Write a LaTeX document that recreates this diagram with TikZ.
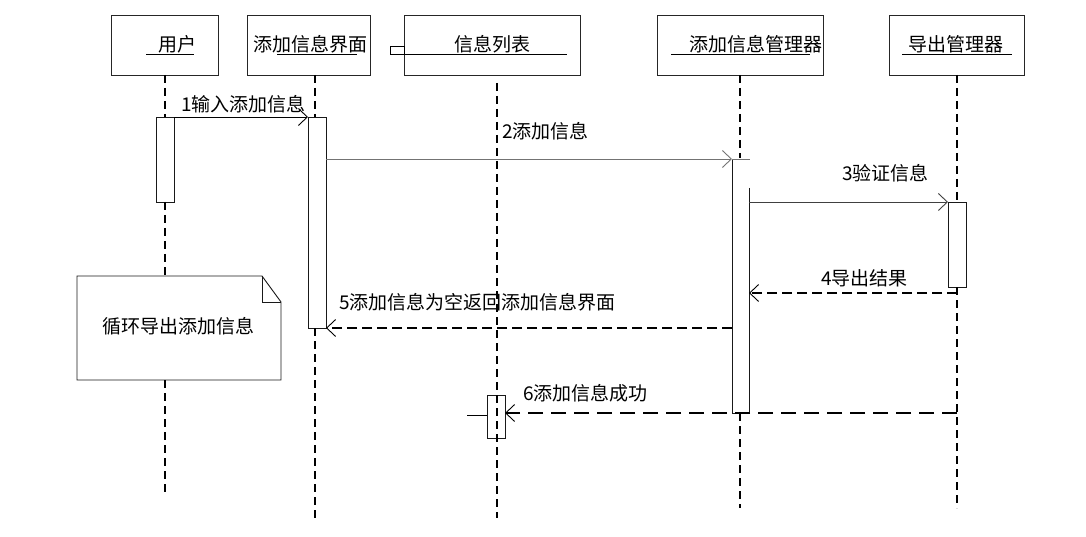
\documentclass[tikz,border=0pt]{standalone}
\usepackage{fontspec}
\setmainfont{Noto Sans CJK SC}
\usetikzlibrary{arrows.meta}
\begin{document}
\begin{tikzpicture}[x=1pt,y=-1pt,
  objbox/.style={draw=black!85, line width=0.9pt, inner sep=0pt},
  lbl/.style={inner sep=0pt, font=\fontsize{19}{19}\selectfont},
  lifeline/.style={line width=1.8pt, dash pattern=on 8pt off 5pt},
  actbox/.style={draw=black!90, line width=0.9pt},
  msg/.style={line width=0.9pt, -{Straight Barb[length=9pt,width=17pt,line width=0.9pt]}},
  retmsg/.style={line width=1.8pt, dash pattern=on 10pt off 5pt, -{Straight Barb[length=9pt,width=17pt,line width=0.9pt]}},
  ulin/.style={line width=0.9pt}]
\useasboundingbox (0,0) rectangle (1086,537);
% object boxes
\node[objbox, minimum width=107pt, minimum height=60pt] (user) at (164.5,45) {};
\node[objbox, minimum width=123pt, minimum height=60pt] (ui) at (308.5,45) {};
\node[objbox, minimum width=176pt, minimum height=60pt] (list) at (492,45) {};
\node[objbox, minimum width=166pt, minimum height=60pt] (mgr) at (740,45) {};
\node[objbox, minimum width=135pt, minimum height=60pt] (exp) at (956.5,45) {};
% titles
\node[lbl] (tuser) at (177,44) {用户};
\draw[ulin] (146,54) -- (194,54);
\node[lbl] (tui) at (310,44) {添加信息界面};
\draw[ulin] (277,54) -- (357,54);
\node[lbl] (tlist) at (492,44) {信息列表};
\draw[ulin] (390,54) -- (567,54);
\draw[ulin] (390,46) rectangle (404,54);
\node[lbl] (tmgr) at (756,44) {添加信息管理器};
\draw[ulin] (671,54) -- (810,54);
\node[lbl] (texp) at (956,44) {导出管理器};
\draw[ulin] (902,54) -- (1012,54);
% activations
\draw[actbox] (156,117) rectangle (174,202);
\draw[actbox] (308,117) rectangle (326,328);
\draw[actbox] (487,395) rectangle (505,438);
\draw[ulin] (467,415) -- (487,415);
\draw[actbox] (749,188) -- (749,413) -- (732,413) -- (732,159);
\draw[actbox] (948,202) rectangle (966,287);
% note
\draw[actbox] (77,276) -- (262,276) -- (281,302) -- (281,380) -- (77,380) -- cycle;
\draw[actbox] (262,276) -- (262,302) -- (281,302);
\node[lbl] (note) at (178,326) {循环导出添加信息};
% lifelines
\coordinate (u0) at (165,75);
\draw[lifeline] (165,75) -- (165,117);
\draw[lifeline] (165,202) -- (165,276);
\draw[lifeline] (165,380) -- (165,495);
\draw[lifeline] (315,75) -- (315,117);
\draw[lifeline] (315,328) -- (315,518);
\draw[lifeline] (497,83) -- (497,518);
\draw[lifeline] (740,75) -- (740,158);
\draw[lifeline] (740,413) -- (740,508);
\draw[lifeline] (957,75) -- (957,202);
\draw[lifeline] (957,287) -- (957,508);
% messages
\draw[msg] (174,117) -- (308,117);
\node[lbl, anchor=west] (m1) at (181,104) {1输入添加信息};
\draw[msg, draw=black!55] (326,159) -- (732,159);
\draw[ulin, draw=black!55] (732,159) -- (750,159);
\node[lbl, anchor=west] (m2) at (502,131) {2添加信息};
\draw[msg, draw=black!75] (749,202) -- (948,202);
\node[lbl, anchor=west] (m3) at (842,173) {3验证信息};
\draw[retmsg] (957,293) -- (749,293);
\node[lbl, anchor=west] (m4) at (821,278) {4导出结果};
\draw[retmsg] (732,328) -- (326,328);
\node[lbl, anchor=west] (m5) at (339,302) {5添加信息为空返回添加信息界面};
\draw[retmsg, dash pattern=on 15pt off 8pt] (957,413) -- (505,413);
\node[lbl, anchor=west] (m6) at (523,393) {6添加信息成功};
\end{tikzpicture}
\end{document}
